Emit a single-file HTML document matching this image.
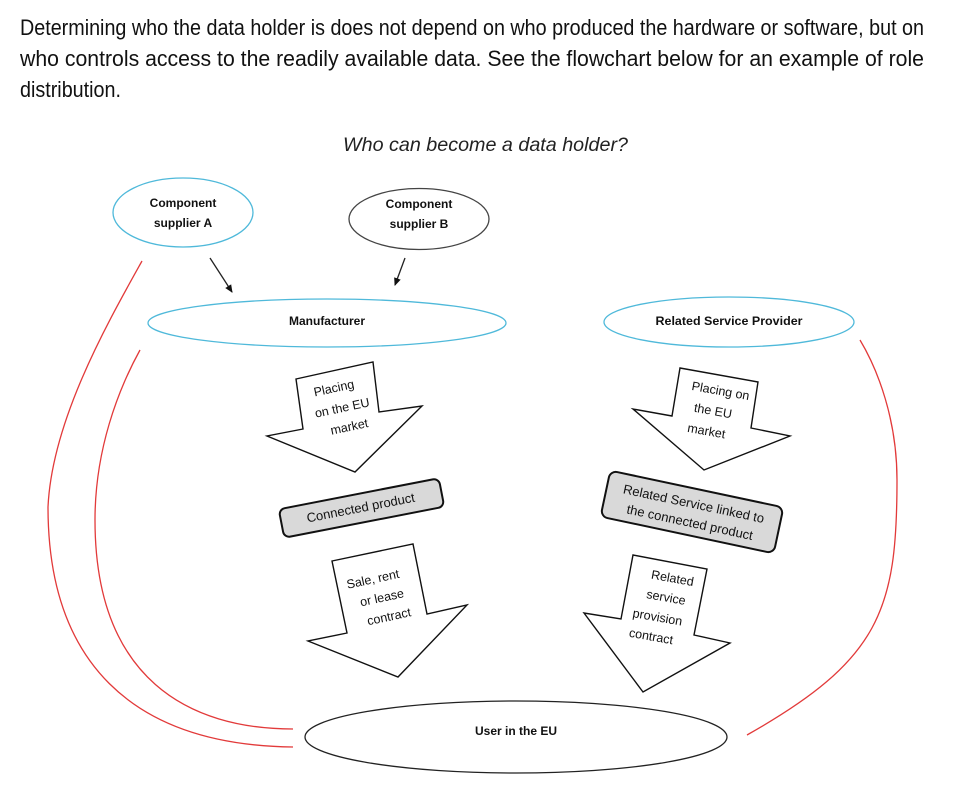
<!DOCTYPE html>
<html>
<head>
<meta charset="utf-8">
<style>
html,body{margin:0;padding:0;background:#fff;}
svg{display:block;}
</style>
</head>
<body>
<svg width="957" height="806" viewBox="0 0 957 806" xmlns="http://www.w3.org/2000/svg">
  <rect width="957" height="806" fill="#fff"/>
  <!-- Paragraph -->
  <g font-family="'Liberation Sans Narrow','Liberation Sans',sans-serif" font-size="22" fill="#111">
    <text x="20" y="35" textLength="904" lengthAdjust="spacingAndGlyphs">Determining who the data holder is does not depend on who produced the hardware or software, but on</text>
    <text x="20" y="66" textLength="904" lengthAdjust="spacingAndGlyphs">who controls access to the readily available data. See the flowchart below for an example of role</text>
    <text x="20" y="97" textLength="101" lengthAdjust="spacingAndGlyphs">distribution.</text>
  </g>
  <!-- Title -->
  <text x="343" y="151" font-family="'Liberation Sans',sans-serif" font-style="italic" font-size="19" fill="#222" textLength="285" lengthAdjust="spacingAndGlyphs">Who can become a data holder?</text>

  <!-- Red curves -->
  <g fill="none" stroke="#e23a3a" stroke-width="1.3">
    <path d="M142,261 C108,322 52,420 48,507 C48,660 130,745 293,747"/>
    <path d="M140,350 C118,390 95,450 95,520 C95,680 190,729 293,729"/>
    <path d="M860,340 C878,370 897,420 897,480 C897,610 880,660 747,735"/>
  </g>

  <!-- Ellipses -->
  <g fill="#fff" stroke-width="1.3">
    <ellipse cx="183" cy="212.5" rx="70" ry="34.5" stroke="#4fb9da"/>
    <ellipse cx="419" cy="219" rx="70" ry="30.5" stroke="#444"/>
    <ellipse cx="327" cy="323" rx="179" ry="24" stroke="#4fb9da"/>
    <ellipse cx="729" cy="322" rx="125" ry="25" stroke="#4fb9da"/>
    <ellipse cx="516" cy="737" rx="211" ry="36" stroke="#222"/>
  </g>

  <!-- Ellipse labels -->
  <g font-family="'Liberation Sans',sans-serif" font-weight="bold" font-size="12" fill="#111" text-anchor="middle">
    <text x="183" y="207">Component</text>
    <text x="183" y="227">supplier A</text>
    <text x="419" y="208">Component</text>
    <text x="419" y="228">supplier B</text>
    <text x="327" y="325">Manufacturer</text>
    <text x="729" y="325" textLength="147" lengthAdjust="spacingAndGlyphs">Related Service Provider</text>
    <text x="516" y="735">User in the EU</text>
  </g>

  <!-- Small black arrows -->
  <defs>
    <marker id="ah" markerWidth="8" markerHeight="8" refX="7" refY="4" orient="auto" markerUnits="userSpaceOnUse">
      <path d="M0,0.5 L8,4 L0,7.5 Z" fill="#111"/>
    </marker>
  </defs>
  <g stroke="#222" stroke-width="1.3" fill="none">
    <line x1="210" y1="258" x2="232" y2="292" marker-end="url(#ah)"/>
    <line x1="405" y1="258" x2="395" y2="285" marker-end="url(#ah)"/>
  </g>

  <!-- Block arrows -->
  <g fill="#fff" stroke="#111" stroke-width="1.4" stroke-linejoin="miter">
    <polygon points="296,379 373,362 379,412 422,406 355,472 267,436 303,429"/>
    <polygon points="332,561 413,544 427,614 467,605 398,677 308,641 347,633"/>
    <polygon points="680,368 758,382 751,428 790,436 704,470 633,409 672,416"/>
    <polygon points="633,555 707,569 694,635 730,643 643,692 584,613 621,619"/>
  </g>

  <!-- Rounded boxes -->
  <g fill="#d9d9d9" stroke="#111" stroke-width="2">
    <rect x="-81.5" y="-14.5" width="163" height="29" rx="6" transform="translate(361.5,508) rotate(-11)"/>
    <rect x="-88.5" y="-23.5" width="177" height="47" rx="7" transform="translate(692,512) rotate(12)"/>
  </g>

  <!-- Arrow & box texts -->
  <g font-family="'Liberation Sans',sans-serif" font-size="12.5" fill="#111" text-anchor="middle">
    <g transform="translate(342,407) rotate(-12)">
      <text x="-4" y="-16">Placing</text>
      <text x="0" y="5">on the EU</text>
      <text x="3" y="25">market</text>
    </g>
    <g transform="translate(381,598) rotate(-12)">
      <text x="-4" y="-16">Sale, rent</text>
      <text x="1" y="4">or lease</text>
      <text x="4" y="24">contract</text>
    </g>
    <g transform="translate(713,411) rotate(10)">
      <text x="4" y="-17">Placing on</text>
      <text x="0" y="4">the EU</text>
      <text x="-3" y="25">market</text>
    </g>
    <g transform="translate(662,609) rotate(10)">
      <text x="5" y="-28">Related</text>
      <text x="2" y="-8">service</text>
      <text x="-3" y="13">provision</text>
      <text x="-6" y="33">contract</text>
    </g>
    <g font-size="13">
      <text transform="translate(361.5,512) rotate(-11)" x="0" y="0">Connected product</text>
      <g transform="translate(692,512) rotate(12)">
        <text x="0" y="-4">Related Service linked to</text>
        <text x="0" y="15">the connected product</text>
      </g>
    </g>
  </g>
</svg>
</body>
</html>
